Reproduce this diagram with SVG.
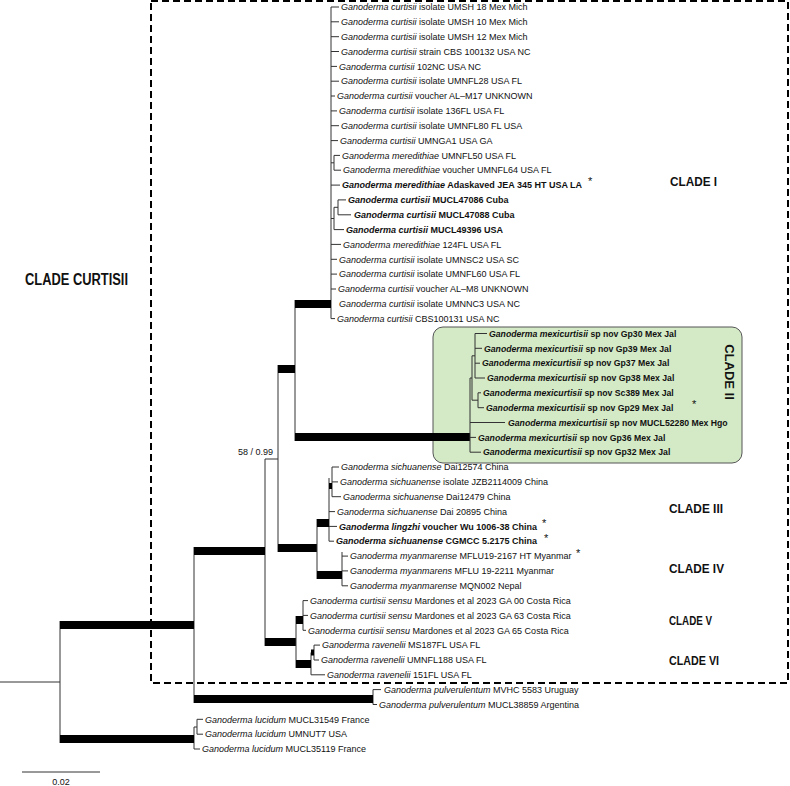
<svg xmlns="http://www.w3.org/2000/svg" width="790" height="786" viewBox="0 0 790 786">
<style>
text{font-family:"Liberation Sans",Arial,sans-serif;font-size:9px;fill:#111}
.i{font-style:italic}
.b{font-weight:bold}
.bb{font-weight:bold;font-size:8.7px}
.ast{font-size:11px}
.clade{font-weight:bold;font-size:13px;fill:#111}
.th{stroke:#333;stroke-width:1;fill:none}
.tk{stroke:#000;stroke-width:8;fill:none}
.tk6{stroke:#000;stroke-width:6;fill:none}
</style>
<rect width="790" height="786" fill="#fff"/>
<g id="clade-curtisii-box"><rect x="151" y="1" width="637" height="682" fill="none" stroke="#000" stroke-width="2" stroke-dasharray="7 4"/></g>
<g id="clade-ii-box"><rect x="433" y="327" width="309" height="136" rx="10" fill="#d4e9c6" stroke="#555" stroke-width="1"/></g>
<g id="connectors">
<path class="th" d="M0 682H60M60 621V743M194 547V703M373 689.6V704.5M373 689.6H381M373 704.5H377M194 727V749M197 719.3V734.2M194 727H197M197 719.3H203M197 734.2H203M194 749H200M265 459V646M265 459H278M278 365V552M295 300V441M331 7V318.6"/>
<path class="tk" d="M60 625H194M60 739H194M194 551H265M194 699H373M265 642H296M278 369H295M278 548H317M295 304H331M295 437H470"/>
<path class="th" d="M331 7H339M331 21.8H339M331 36.7H339M331 51.5H339M331 66.4H337M331 81.2H339M331 96H335M331 110.9H337M331 125.7H339M331 140.6H338M331 162.8H334M334 155.4V170.2M334 155.4H340M334 170.2H341M331 185.1H340M331 218.5H334M334 207.3V229.6M334 207.3H338M338 199.9V214.8M338 199.9H346M338 214.8H351M334 229.6H344M331 244.4H341M331 259.3H337M331 274.1H337M331 289H336M331 318.6H335"/>
<path class="th" d="M470 378V452.2M470 422.5H505M470 437.4H476M470 452.2H481M470 378H472M472 355.8V400.2M472 355.8H475M475 333.5V378M475 333.5H487M475 348.3H482M475 363.2H480M475 378H485M472 400.2H478M478 392.8V407.7M478 392.8H481M478 407.7H484"/>
<path class="th" d="M317 519V579M329 478V541.2M332 467V496.7M332 467H339M332 481.9H338M332 496.7H341M329 511.6H335M329 526.4H337M329 541.2H334M342 552V585.8M342 556.1H348M342 570.9H348M342 585.8H348"/>
<path class="tk" d="M317 523H329M317 575H342"/>
<path class="tk6" d="M329 486H332"/>
<path class="th" d="M296 616V668M303 600.6V630.3M303 600.6H308M303 615.4H308M303 630.3H306M311 652.5V674.8M311 674.8H325M314 645.1V660M314 645.1H320M314 660H319"/>
<path class="tk" d="M296 620H303M296 664H311"/>
<path class="tk6" d="M311 652.5H314"/>
</g>
<g id="leaves-clade-i">
<g id="n0"><text x="341" y="10.2"><tspan class="i">Ganoderma curtisii</tspan> isolate UMSH 18 Mex Mich</text></g>
<g id="n1"><text x="341" y="25"><tspan class="i">Ganoderma curtisii</tspan> isolate UMSH 10 Mex Mich</text></g>
<g id="n2"><text x="341" y="39.9"><tspan class="i">Ganoderma curtisii</tspan> isolate UMSH 12 Mex Mich</text></g>
<g id="n3"><text x="341" y="54.7"><tspan class="i">Ganoderma curtisii</tspan> strain CBS 100132 USA NC</text></g>
<g id="n4"><text x="339" y="69.6"><tspan class="i">Ganoderma curtisii</tspan> 102NC USA NC</text></g>
<g id="n5"><text x="341" y="84.4"><tspan class="i">Ganoderma curtisii</tspan> isolate UMNFL28 USA FL</text></g>
<g id="n6"><text x="337" y="99.2"><tspan class="i">Ganoderma curtisii</tspan> voucher  AL–M17 UNKNOWN</text></g>
<g id="n7"><text x="339" y="114.1"><tspan class="i">Ganoderma curtisii</tspan> isolate 136FL USA FL</text></g>
<g id="n8"><text x="341" y="128.9"><tspan class="i">Ganoderma curtisii</tspan> isolate UMNFL80 FL USA</text></g>
<g id="n9"><text x="340" y="143.8"><tspan class="i">Ganoderma curtisii</tspan> UMNGA1 USA GA</text></g>
<g id="n10"><text x="342" y="158.6"><tspan class="i">Ganoderma meredithiae</tspan> UMNFL50 USA FL</text></g>
<g id="n11"><text x="343" y="173.4"><tspan class="i">Ganoderma meredithiae</tspan> voucher UMNFL64 USA FL</text></g>
<g id="n12"><text x="342" y="188.3" class="b"><tspan class="i">Ganoderma meredithiae</tspan> Adaskaved JEA 345 HT USA LA</text><text x="588" y="185" class="ast">*</text></g>
<g id="n13"><text x="348" y="203.1" class="b"><tspan class="i">Ganoderma curtisii</tspan> MUCL47086 Cuba</text></g>
<g id="n14"><text x="354" y="218" class="b"><tspan class="i">Ganoderma curtisii</tspan> MUCL47088 Cuba</text></g>
<g id="n15"><text x="346" y="232.8" class="b"><tspan class="i">Ganoderma curtisii</tspan> MUCL49396  USA</text></g>
<g id="n16"><text x="343" y="247.6"><tspan class="i">Ganoderma meredithiae</tspan> 124FL USA FL</text></g>
<g id="n17"><text x="339" y="262.5"><tspan class="i">Ganoderma curtisii</tspan> isolate UMNSC2 USA SC</text></g>
<g id="n18"><text x="339" y="277.3"><tspan class="i">Ganoderma curtisii</tspan> isolate UMNFL60 USA FL</text></g>
<g id="n19"><text x="338" y="292.2"><tspan class="i">Ganoderma curtisii</tspan> voucher  AL–M8 UNKNOWN</text></g>
<g id="n20"><text x="339" y="307"><tspan class="i">Ganoderma curtisii</tspan> isolate UMNNC3 USA NC</text></g>
<g id="n21"><text x="337" y="321.8"><tspan class="i">Ganoderma curtisii</tspan> CBS100131 USA NC</text></g>
</g>
<g id="leaves-clade-ii">
<g id="n22"><text x="489" y="336.7" class="bb"><tspan class="i">Ganoderma mexicurtisii</tspan> sp nov Gp30 Mex Jal</text></g>
<g id="n23"><text x="484" y="351.5" class="bb"><tspan class="i">Ganoderma mexicurtisii</tspan> sp nov Gp39 Mex Jal</text></g>
<g id="n24"><text x="482" y="366.4" class="bb"><tspan class="i">Ganoderma mexicurtisii</tspan> sp nov Gp37 Mex Jal</text></g>
<g id="n25"><text x="487" y="381.2" class="bb"><tspan class="i">Ganoderma mexicurtisii</tspan> sp nov Gp38 Mex Jal</text></g>
<g id="n26"><text x="483" y="396" class="bb"><tspan class="i">Ganoderma mexicurtisii</tspan> sp nov Sc389 Mex Jal</text></g>
<g id="n27"><text x="486" y="410.9" class="bb"><tspan class="i">Ganoderma mexicurtisii</tspan> sp nov Gp29 Mex Jal</text><text x="692" y="408" class="ast">*</text></g>
<g id="n28"><text x="508" y="425.7" class="bb"><tspan class="i">Ganoderma mexicurtisii</tspan> sp nov MUCL52280 Mex Hgo</text></g>
<g id="n29"><text x="478" y="440.6" class="bb"><tspan class="i">Ganoderma mexicurtisii</tspan> sp nov Gp36 Mex Jal</text></g>
<g id="n30"><text x="483" y="455.4" class="bb"><tspan class="i">Ganoderma mexicurtisii</tspan> sp nov  Gp32 Mex Jal</text></g>
</g>
<g id="leaves-clade-iii-iv">
<g id="n31"><text x="341" y="470.2"><tspan class="i">Ganoderma sichuanense</tspan> Dai12574 China</text></g>
<g id="n32"><text x="340" y="485.1"><tspan class="i">Ganoderma sichuanense</tspan> isolate JZB2114009 China</text></g>
<g id="n33"><text x="343" y="499.9"><tspan class="i">Ganoderma sichuanense</tspan> Dai12479 China</text></g>
<g id="n34"><text x="337" y="514.8"><tspan class="i">Ganoderma sichuanense</tspan> Dai 20895 China</text></g>
<g id="n35"><text x="339" y="529.6" class="b"><tspan class="i">Ganoderma lingzhi</tspan> voucher Wu 1006-38  China</text><text x="542" y="527" class="ast">*</text></g>
<g id="n36"><text x="336" y="544.4" class="b"><tspan class="i">Ganoderma sichuanense</tspan> CGMCC 5.2175 China</text><text x="544" y="542" class="ast">*</text></g>
<g id="n37"><text x="350" y="559.3"><tspan class="i">Ganoderma myanmarense</tspan> MFLU19-2167 HT Myanmar</text><text x="576" y="557" class="ast">*</text></g>
<g id="n38"><text x="350" y="574.1"><tspan class="i">Ganoderma myanmarens</tspan> MFLU 19-2211 Myanmar</text></g>
<g id="n39"><text x="350" y="589"><tspan class="i">Ganoderma myanmarense</tspan> MQN002 Nepal</text></g>
</g>
<g id="leaves-clade-v-vi">
<g id="n40"><text x="310" y="603.8"><tspan class="i">Ganoderma curtisii sensu</tspan> Mardones et al 2023 GA 00 Costa Rica</text></g>
<g id="n41"><text x="310" y="618.6"><tspan class="i">Ganoderma curtisii sensu</tspan> Mardones et al 2023 GA 63 Costa Rica</text></g>
<g id="n42"><text x="308" y="633.5"><tspan class="i">Ganoderma curtisii sensu</tspan> Mardones et al 2023 GA 65 Costa Rica</text></g>
<g id="n43"><text x="322" y="648.3"><tspan class="i">Ganoderma ravenelii</tspan> MS187FL USA FL</text></g>
<g id="n44"><text x="321" y="663.2"><tspan class="i">Ganoderma ravenelii</tspan> UMNFL188 USA FL</text></g>
<g id="n45"><text x="327" y="678"><tspan class="i">Ganoderma ravenelii</tspan> 151FL USA FL</text></g>
</g>
<g id="leaves-outgroups">
<g id="n46"><text x="384" y="692.8"><tspan class="i">Ganoderma pulverulentum</tspan> MVHC 5583 Uruguay</text></g>
<g id="n47"><text x="379" y="707.7"><tspan class="i">Ganoderma pulverulentum</tspan> MUCL38859 Argentina</text></g>
<g id="n48"><text x="205" y="722.5"><tspan class="i">Ganoderma lucidum</tspan> MUCL31549 France</text></g>
<g id="n49"><text x="205" y="737.4"><tspan class="i">Ganoderma lucidum</tspan> UMNUT7 USA</text></g>
<g id="n50"><text x="202" y="752.2"><tspan class="i">Ganoderma lucidum</tspan> MUCL35119 France</text></g>
</g>
<g id="support"><text x="238" y="454.5">58 / 0.99</text></g>
<g id="clade-labels">
<text class="clade" x="25" y="285" style="font-size:16px" textLength="103" lengthAdjust="spacingAndGlyphs">CLADE CURTISII</text>
<text class="clade" x="670" y="186" textLength="47" lengthAdjust="spacingAndGlyphs">CLADE I</text>
<text class="clade" transform="translate(725,372) rotate(90)" text-anchor="middle">CLADE II</text>
<text class="clade" x="669" y="513" textLength="54" lengthAdjust="spacingAndGlyphs">CLADE III</text>
<text class="clade" x="669" y="573" textLength="55" lengthAdjust="spacingAndGlyphs">CLADE IV</text>
<text class="clade" x="669" y="625" textLength="43" lengthAdjust="spacingAndGlyphs">CLADE V</text>
<text class="clade" x="669" y="665" textLength="50" lengthAdjust="spacingAndGlyphs">CLADE VI</text>
</g>
<g id="scale-bar"><path class="th" d="M22 772H100"/><text x="61" y="785" text-anchor="middle">0.02</text></g>
</svg>
